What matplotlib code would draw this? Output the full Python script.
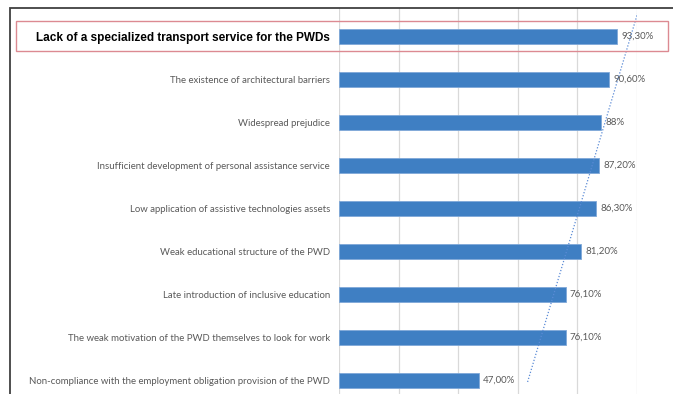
import numpy as np
import matplotlib
matplotlib.use('Agg')
import matplotlib.pyplot as plt
from matplotlib.patches import Rectangle

categories = [
    'Lack of a specialized transport service for the PWDs',
    'The existence of architectural barriers',
    'Widespread prejudice',
    'Insufficient development of personal assistance service',
    'Low application of assistive technologies assets',
    'Weak educational structure of the PWD',
    'Late introduction of inclusive education',
    'The weak motivation of the PWD themselves to look for work',
    'Non-compliance with the employment obligation provision of the PWD',
]
values = [93.3, 90.6, 88.0, 87.2, 86.3, 81.2, 76.1, 76.1, 47.0]
value_labels = ['93,30%', '90,60%', '88%', '87,20%', '86,30%',
                '81,20%', '76,10%', '76,10%', '47,00%']

W, H = 673, 394
fig = plt.figure(figsize=(W / 100, H / 100), dpi=100)
fig.patch.set_facecolor('white')

# axes in pixel coords: x 339..637, y 8..394 (chart is cropped at bottom)
ax = fig.add_axes([339 / W, 0, (637 - 339) / W, (H - 8) / H])

pos = np.arange(len(categories))
ax.barh(pos, values, height=0.35, color='#3F7FC3', edgecolor='#7FA8D8',
        linewidth=0.6, zorder=3)

ax.set_xlim(0, 100)
ax.set_ylim(8.31, -0.66)
ax.set_xticks(np.arange(0, 101, 20))
ax.xaxis.grid(True, color='#D9D9D9', linewidth=0.9, zorder=0)
ax.tick_params(axis='x', length=0, labelbottom=False)
ax.tick_params(axis='y', length=0, pad=6.5)
for s in ax.spines.values():
    s.set_visible(False)

ax.set_yticks(pos)
ax.set_yticklabels(categories, fontsize=6.9, color='#595959', family='Lato')
first = ax.get_yticklabels()[0]
first.set_fontfamily('Liberation Sans')
first.set_fontweight('bold')
first.set_fontsize(8.5)
first.set_color('black')

for p, v, lab in zip(pos, values, value_labels):
    ax.text(v + 1.4, p, lab, va='center', ha='left', fontsize=7,
            color='#595959', family='Lato', clip_on=False, zorder=4)

# linear trendline
k, b = np.polyfit(pos, values, 1)
tp = np.array([8.03, -0.7])
ax.plot(k * tp + b, tp, linestyle=(0, (1, 1.5)), color='#5B8BD6',
        linewidth=0.9, zorder=5, clip_on=True)

# outer frame (left and top edges visible)
fig.patches.append(Rectangle((10 / W, -0.1), 1.2, (H - 8) / H + 0.1,
                             transform=fig.transFigure, fill=False,
                             edgecolor='#404040', linewidth=1.3))
# highlight box around first item
fig.patches.append(Rectangle((16 / W, 1 - 51 / H), (668 - 16) / W, 30 / H,
                             transform=fig.transFigure, fill=False,
                             edgecolor='#DC8A92', linewidth=1.0, zorder=6))

fig.savefig('out.png', dpi=100)
